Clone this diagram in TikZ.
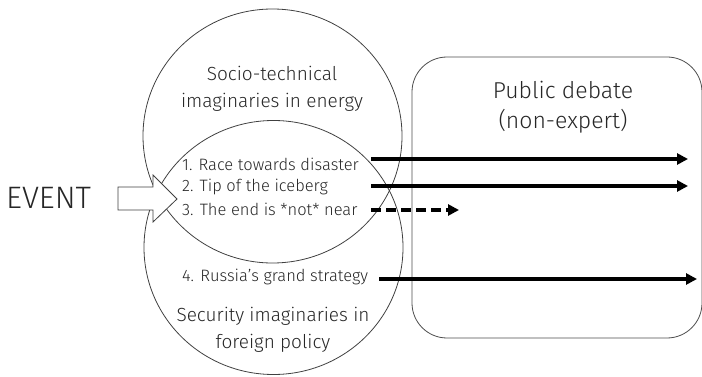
\documentclass[tikz,border=0pt]{standalone}
\usepackage{fontspec}
\setmainfont{Fira Sans Light}
\usetikzlibrary{arrows.meta}
\begin{document}
\begin{tikzpicture}[x=1pt,y=-1pt,
  ring/.style={draw=black!75,line width=0.8pt},
  lbl/.style={inner sep=0pt,text=black!85},
  item/.style={lbl,anchor=west,font=\fontsize{16.5}{18}\selectfont},
  flow/.style={line width=3.3pt,-{Triangle[length=11pt,width=11pt]}},
  dflow/.style={flow,dash pattern=on 10pt off 5pt}]
\useasboundingbox (0,0) rectangle (702,377);
% circles
\draw[ring] (272.5,136) ellipse [x radius=129.5,y radius=127];
\draw[ring] (273.5,247.5) ellipse [x radius=129.5,y radius=127];
% public debate box
\node[draw=black!70,line width=0.8pt,rounded corners=35pt,minimum width=290pt,minimum height=281pt,inner sep=0pt] (pub) at (557,197.5) {};
\node[lbl,align=center,font=\fontsize{23}{30}\selectfont] (pubt) at (563,107) {Public debate\\(non-expert)};
% labels in circles
\node[lbl,align=center,font=\fontsize{19}{27}\selectfont] (soc) at (272,88.5) {Socio-technical\\imaginaries in energy};
\node[lbl,align=center,font=\fontsize{19}{27}\selectfont] (sec) at (273,329.5) {Security imaginaries in\\foreign policy};
\node[item] (i1) at (182,164) {1. Race towards disaster};
\node[item] (i2) at (182,187) {2. Tip of the iceberg};
\node[item] (i3) at (182,209.5) {3. The end is *not* near};
\node[item] (i4) at (182,277) {4. Russia's grand strategy};
% event
\node[lbl,anchor=west,font=\fontsize{31}{31}\selectfont] (ev) at (6,198) {EVENT};
\draw[draw=black!75,line width=0.8pt,fill=white] (118,187) -- (153,187) -- (153,175) -- (177,199) -- (153,222) -- (153,210) -- (118,210) -- cycle;
% arrows
\coordinate (a1s) at (371,159); \coordinate (a1e) at (688,159);
\coordinate (a2s) at (371,186); \coordinate (a2e) at (688,186);
\coordinate (a3s) at (371,210); \coordinate (a3e) at (459,210);
\coordinate (a4s) at (379,279); \coordinate (a4e) at (697,279);
\draw[flow] (a1s) -- (a1e);
\draw[flow] (a2s) -- (a2e);
\draw[dflow] (a3s) -- (a3e);
\draw[flow] (a4s) -- (a4e);
\end{tikzpicture}
\end{document}
